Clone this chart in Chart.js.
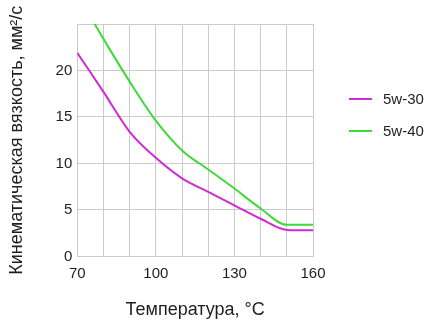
<!DOCTYPE html>
<html lang="ru">
<head>
    <meta charset="UTF-8">
    <title>Вязкость масла</title>
    <script src="https://cdn.jsdelivr.net/npm/chart.js@4.4.1/dist/chart.umd.min.js"></script>
    <style>
        body {
            margin: 0;
            padding: 0;
            background-color: #ffffff;
        }
        .chart-box {
            width: 430px;
            height: 323px;
        }
    </style>
</head>
<body>
    <div class="chart-box">
        <canvas id="viscChart" width="430" height="323"></canvas>
    </div>

    <script>
        // данные
        const temps = [70, 80, 90, 100, 110, 120, 130, 140, 150, 160];
        const visc5w30 = [21.9, 17.7, 13.4, 10.6, 8.4, 6.95, 5.5, 4.05, 2.85, 2.8];
        const visc5w40 = [28.2, 23.4, 18.8, 14.6, 11.4, 9.35, 7.3, 5.15, 3.4, 3.4];
        const seriesNames = ['5w-30', '5w-40'];
        const xTickLabels = [70, 100, 130, 160];
        const yTickLabels = [0, 5, 10, 15, 20];

        const FONT = 'Arial, "Liberation Sans", sans-serif';
        const gridColor = '#cbcbcb';

        Chart.defaults.font.family = FONT;
        Chart.defaults.color = '#1e1e1e';

        // легенда справа: линия + подпись
        const sideLegend = {
            id: 'sideLegend',
            afterDraw(chart) {
                const ctx = chart.ctx;
                const area = chart.chartArea;
                ctx.save();
                ctx.font = '15px ' + FONT;
                ctx.textBaseline = 'middle';
                ctx.fillStyle = '#1e1e1e';
                chart.data.datasets.forEach((ds, i) => {
                    const y = area.top + 75 + i * 32;
                    const x = area.right + 36;
                    ctx.strokeStyle = ds.borderColor;
                    ctx.lineWidth = 2;
                    ctx.beginPath();
                    ctx.moveTo(x, y);
                    ctx.lineTo(x + 23, y);
                    ctx.stroke();
                    ctx.fillText(ds.label, x + 34, y + 1);
                });
                ctx.restore();
            }
        };

        const ctx = document.getElementById('viscChart').getContext('2d');
        new Chart(ctx, {
            type: 'line',
            data: {
                labels: temps,
                datasets: [{
                    label: seriesNames[0],
                    data: temps.map((t, i) => ({ x: t, y: visc5w30[i] })),
                    borderColor: '#d12ad3',
                    borderWidth: 2,
                    pointRadius: 0,
                    cubicInterpolationMode: 'monotone',
                    fill: false
                }, {
                    label: seriesNames[1],
                    data: temps.map((t, i) => ({ x: t, y: visc5w40[i] })),
                    borderColor: '#3ddb38',
                    borderWidth: 2,
                    pointRadius: 0,
                    cubicInterpolationMode: 'monotone',
                    fill: false,
                    clip: 0
                }]
            },
            options: {
                responsive: false,
                animation: false,
                devicePixelRatio: 1,
                layout: {
                    padding: { left: 6, right: 117, top: 24, bottom: 2 }
                },
                plugins: {
                    legend: { display: false },
                    tooltip: { enabled: false }
                },
                scales: {
                    x: {
                        type: 'linear',
                        min: 70,
                        max: 160,
                        border: { color: gridColor },
                        grid: { color: gridColor, drawTicks: false },
                        ticks: {
                            stepSize: 10,
                            autoSkip: false,
                            padding: 8,
                            maxRotation: 0,
                            font: { size: 15 },
                            callback: v => xTickLabels.includes(v) ? v : ''
                        },
                        title: {
                            display: true,
                            text: 'Температура, °C',
                            font: { size: 18 },
                            padding: { top: 9, bottom: 0 }
                        }
                    },
                    y: {
                        min: 0,
                        max: 25,
                        border: { color: gridColor },
                        grid: { color: gridColor, drawTicks: false },
                        ticks: {
                            stepSize: 5,
                            autoSkip: false,
                            padding: 5,
                            font: { size: 15 },
                            callback: v => yTickLabels.includes(v) ? v : ''
                        },
                        title: {
                            display: true,
                            text: 'Кинематическая вязкость, мм²/с',
                            font: { size: 18 },
                            padding: { top: 0, bottom: 23 }
                        }
                    }
                }
            },
            plugins: [sideLegend]
        });
    </script>
</body>
</html>
